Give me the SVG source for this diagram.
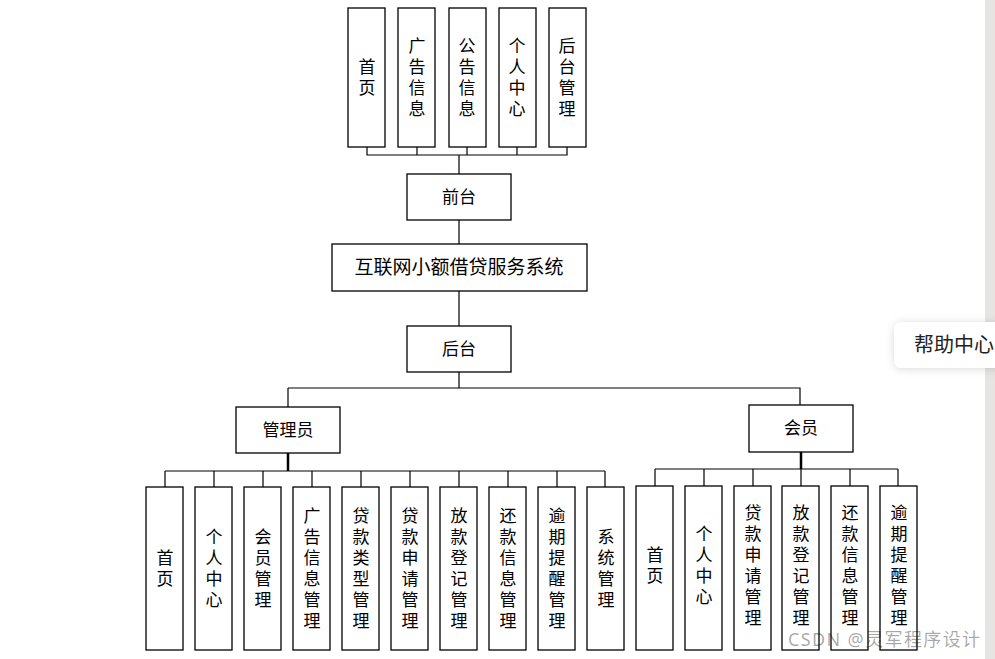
<svg xmlns="http://www.w3.org/2000/svg" width="995" height="659" viewBox="0 0 995 659">
<style>
.b{fill:#fff;stroke:#000;stroke-width:1.3}
.t{font-family:"Liberation Serif","Noto Sans CJK SC",serif;font-size:17px;fill:#000;text-anchor:middle}
.c{fill:none;stroke:#000;stroke-width:1.2}
</style>
<defs><filter id="sh" x="-20%" y="-40%" width="140%" height="180%"><feDropShadow dx="0" dy="1" stdDeviation="4" flood-color="#000" flood-opacity="0.15"/></filter></defs>
<rect width="995" height="659" fill="#fff"/>
<g id="connectors">
<path class="c" d="M367 147V155H567V147M417 147V155M467 147V155M517 147V155M459 155V174M459 220V244M459 291V326M459 372V388M288 388H800V405M288 388V407"/>
<path class="c" d="M288 453V471M165 471H605M165 471V487M214 471V487M263 471V487M312 471V487M361 471V487M410 471V487M459 471V487M508 471V487M557 471V487M605 471V487"/>
<path class="c" d="M801 452V469M655 469H898M655 469V486M704 469V486M753 469V486M801 469V486M850 469V486M898 469V486"/>
<path stroke="#000" stroke-width="2.5" d="M288 453V471M801 452V469"/>
</g>
<g id="top-nodes">
<g id="n-home1"><rect class="b" x="348" y="8" width="37" height="139"/><text class="t" x="367"><tspan x="367" y="73">首</tspan><tspan x="367" dy="21">页</tspan></text></g>
<g id="n-ad1"><rect class="b" x="398" y="8" width="37" height="139"/><text class="t"><tspan x="417" y="52">广</tspan><tspan x="417" dy="21">告</tspan><tspan x="417" dy="21">信</tspan><tspan x="417" dy="21">息</tspan></text></g>
<g id="n-notice"><rect class="b" x="449" y="8" width="37" height="139"/><text class="t"><tspan x="467" y="52">公</tspan><tspan x="467" dy="21">告</tspan><tspan x="467" dy="21">信</tspan><tspan x="467" dy="21">息</tspan></text></g>
<g id="n-me1"><rect class="b" x="499" y="8" width="37" height="139"/><text class="t"><tspan x="517" y="52">个</tspan><tspan x="517" dy="21">人</tspan><tspan x="517" dy="21">中</tspan><tspan x="517" dy="21">心</tspan></text></g>
<g id="n-admin-link"><rect class="b" x="549" y="8" width="37" height="139"/><text class="t"><tspan x="567" y="52">后</tspan><tspan x="567" dy="21">台</tspan><tspan x="567" dy="21">管</tspan><tspan x="567" dy="21">理</tspan></text></g>
</g>
<g id="front"><rect class="b" x="407" y="174" width="104" height="46"/><text class="t" x="459" y="203">前台</text></g>
<g id="system"><rect class="b" x="332" y="244" width="255" height="47"/><text class="t" x="459" y="274" style="font-size:19px">互联网小额借贷服务系统</text></g>
<g id="back"><rect class="b" x="407" y="326" width="104" height="46"/><text class="t" x="459" y="355">后台</text></g>
<g id="admin"><rect class="b" x="236" y="407" width="104" height="46"/><text class="t" x="288" y="436">管理员</text></g>
<g id="member"><rect class="b" x="749" y="405" width="104" height="47"/><text class="t" x="801" y="434">会员</text></g>
<g id="admin-children">
<g id="a1"><rect class="b" x="146" y="487" width="37" height="163"/><text class="t"><tspan x="165" y="564">首</tspan><tspan x="165" dy="21">页</tspan></text></g>
<g id="a2"><rect class="b" x="195" y="487" width="37" height="163"/><text class="t"><tspan x="214" y="543">个</tspan><tspan x="214" dy="21">人</tspan><tspan x="214" dy="21">中</tspan><tspan x="214" dy="21">心</tspan></text></g>
<g id="a3"><rect class="b" x="244" y="487" width="37" height="163"/><text class="t"><tspan x="263" y="543">会</tspan><tspan x="263" dy="21">员</tspan><tspan x="263" dy="21">管</tspan><tspan x="263" dy="21">理</tspan></text></g>
<g id="a4"><rect class="b" x="293" y="487" width="37" height="163"/><text class="t"><tspan x="312" y="522">广</tspan><tspan x="312" dy="21">告</tspan><tspan x="312" dy="21">信</tspan><tspan x="312" dy="21">息</tspan><tspan x="312" dy="21">管</tspan><tspan x="312" dy="21">理</tspan></text></g>
<g id="a5"><rect class="b" x="342" y="487" width="37" height="163"/><text class="t"><tspan x="361" y="522">贷</tspan><tspan x="361" dy="21">款</tspan><tspan x="361" dy="21">类</tspan><tspan x="361" dy="21">型</tspan><tspan x="361" dy="21">管</tspan><tspan x="361" dy="21">理</tspan></text></g>
<g id="a6"><rect class="b" x="391" y="487" width="37" height="163"/><text class="t"><tspan x="410" y="522">贷</tspan><tspan x="410" dy="21">款</tspan><tspan x="410" dy="21">申</tspan><tspan x="410" dy="21">请</tspan><tspan x="410" dy="21">管</tspan><tspan x="410" dy="21">理</tspan></text></g>
<g id="a7"><rect class="b" x="440" y="487" width="37" height="163"/><text class="t"><tspan x="459" y="522">放</tspan><tspan x="459" dy="21">款</tspan><tspan x="459" dy="21">登</tspan><tspan x="459" dy="21">记</tspan><tspan x="459" dy="21">管</tspan><tspan x="459" dy="21">理</tspan></text></g>
<g id="a8"><rect class="b" x="489" y="487" width="37" height="163"/><text class="t"><tspan x="508" y="522">还</tspan><tspan x="508" dy="21">款</tspan><tspan x="508" dy="21">信</tspan><tspan x="508" dy="21">息</tspan><tspan x="508" dy="21">管</tspan><tspan x="508" dy="21">理</tspan></text></g>
<g id="a9"><rect class="b" x="538" y="487" width="37" height="163"/><text class="t"><tspan x="557" y="522">逾</tspan><tspan x="557" dy="21">期</tspan><tspan x="557" dy="21">提</tspan><tspan x="557" dy="21">醒</tspan><tspan x="557" dy="21">管</tspan><tspan x="557" dy="21">理</tspan></text></g>
<g id="a10"><rect class="b" x="587" y="487" width="37" height="163"/><text class="t"><tspan x="606" y="543">系</tspan><tspan x="606" dy="21">统</tspan><tspan x="606" dy="21">管</tspan><tspan x="606" dy="21">理</tspan></text></g>
</g>
<g id="member-children">
<g id="m1"><rect class="b" x="636" y="486" width="37" height="164"/><text class="t"><tspan x="655" y="561">首</tspan><tspan x="655" dy="21">页</tspan></text></g>
<g id="m2"><rect class="b" x="685" y="486" width="37" height="164"/><text class="t"><tspan x="704" y="540">个</tspan><tspan x="704" dy="21">人</tspan><tspan x="704" dy="21">中</tspan><tspan x="704" dy="21">心</tspan></text></g>
<g id="m3"><rect class="b" x="734" y="486" width="37" height="164"/><text class="t"><tspan x="753" y="519">贷</tspan><tspan x="753" dy="21">款</tspan><tspan x="753" dy="21">申</tspan><tspan x="753" dy="21">请</tspan><tspan x="753" dy="21">管</tspan><tspan x="753" dy="21">理</tspan></text></g>
<g id="m4"><rect class="b" x="782" y="486" width="37" height="164"/><text class="t"><tspan x="801" y="519">放</tspan><tspan x="801" dy="21">款</tspan><tspan x="801" dy="21">登</tspan><tspan x="801" dy="21">记</tspan><tspan x="801" dy="21">管</tspan><tspan x="801" dy="21">理</tspan></text></g>
<g id="m5"><rect class="b" x="831" y="486" width="37" height="164"/><text class="t"><tspan x="850" y="519">还</tspan><tspan x="850" dy="21">款</tspan><tspan x="850" dy="21">信</tspan><tspan x="850" dy="21">息</tspan><tspan x="850" dy="21">管</tspan><tspan x="850" dy="21">理</tspan></text></g>
<g id="m6"><rect class="b" x="880" y="486" width="37" height="164"/><text class="t"><tspan x="899" y="519">逾</tspan><tspan x="899" dy="21">期</tspan><tspan x="899" dy="21">提</tspan><tspan x="899" dy="21">醒</tspan><tspan x="899" dy="21">管</tspan><tspan x="899" dy="21">理</tspan></text></g>
</g>
<text x="788" y="646" style="font-family:'Noto Sans','Noto Sans CJK SC',sans-serif;font-size:18px;fill:#000;fill-opacity:0.35" textLength="192">CSDN @灵军程序设计</text>
<rect x="985" y="0" width="10" height="659" fill="#e8e4e2"/>
<rect x="894" y="322" width="120" height="46" rx="8" fill="#fff" filter="url(#sh)"/>
<text x="914" y="352" style="font-family:'Noto Sans CJK SC',sans-serif;font-size:20px;fill:#222">帮助中心</text>
</svg>
